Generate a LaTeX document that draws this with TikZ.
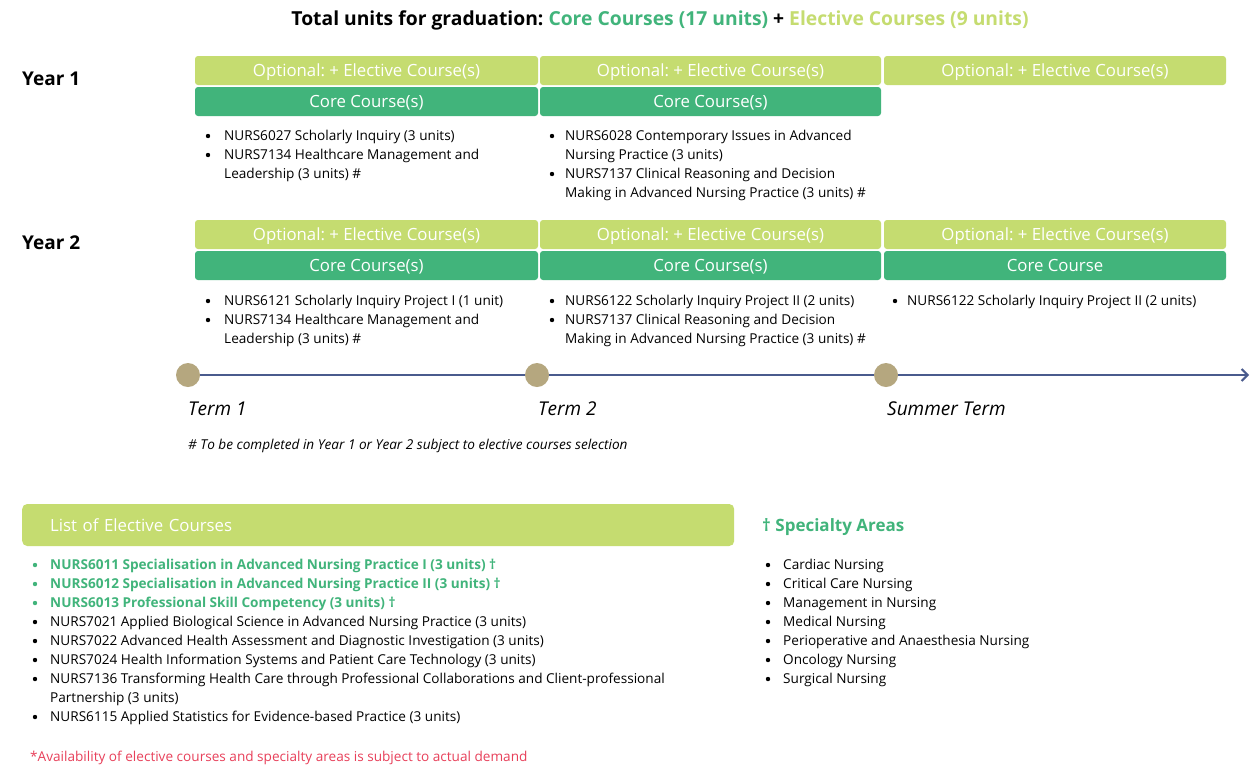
\documentclass[tikz,border=0pt]{standalone}
\usepackage{fontspec}
\setmainfont{Open Sans}
\usetikzlibrary{arrows.meta}
\definecolor{coregreen}{HTML}{41B47B}
\definecolor{elecgreen}{HTML}{C5DC70}
\definecolor{tline}{HTML}{4A5B8D}
\definecolor{tan}{HTML}{B5A77F}
\definecolor{noteRed}{HTML}{E8405A}
\newcommand\bitem[6][black]{\fill[#1] (#3,#5) circle (2.2pt);\node[item,text=#1] (#2) at (#4,#5) {#6};}
\frenchspacing
\begin{document}
\begin{tikzpicture}[x=1pt,y=-1pt,
  item/.style={anchor=west,inner sep=0pt,text height=11pt,text depth=2pt,font=\fontsize{13.6}{19}\selectfont},
  elbox/.style={fill=elecgreen,text=white,rounded corners=3pt,minimum height=29pt,inner sep=0pt,text height=14pt,text depth=2pt,font=\fontsize{16.8}{19}\selectfont},
  corebox/.style={fill=coregreen,text=white,rounded corners=3pt,minimum height=29pt,inner sep=0pt,text height=14pt,text depth=2pt,font=\fontsize{16.8}{19}\selectfont},
  yearlbl/.style={anchor=west,inner sep=0pt,font=\bfseries\fontsize{19}{22}\selectfont},
  termdot/.style={circle,fill=tan,minimum size=24pt,inner sep=0pt},
  termlbl/.style={anchor=west,inner sep=0pt,font=\itshape\fontsize{19}{22}\selectfont},
  tl/.style={draw=tline,line width=2.6pt}
]
\fill[white] (0,0) rectangle (1257,780);
\useasboundingbox (0,0) rectangle (1257,780);

\node[font=\bfseries\fontsize{19.3}{22}\selectfont,inner sep=0pt] (title) at (660,20)
 {Total units for graduation: \textcolor{coregreen}{Core Courses (17 units)} + \textcolor{elecgreen}{Elective Courses (9 units)}};

\node[yearlbl] (y1) at (22,79) {Year 1};
\node[yearlbl] (y2) at (22,243) {Year 2};

% Year 1 boxes
\node[elbox,minimum width=343pt] (e11) at (366.5,70.5) {Optional: + Elective Course(s)};
\node[elbox,minimum width=341pt] (e12) at (710.5,70.5) {Optional: + Elective Course(s)};
\node[elbox,minimum width=342pt] (e13) at (1055,70.5) {Optional: + Elective Course(s)};
\node[corebox,minimum width=343pt] (c11) at (366.5,101.5) {Core Course(s)};
\node[corebox,minimum width=341pt] (c12) at (710.5,101.5) {Core Course(s)};
% Year 2 boxes
\node[elbox,minimum width=343pt] (e21) at (366.5,234.5) {Optional: + Elective Course(s)};
\node[elbox,minimum width=341pt] (e22) at (710.5,234.5) {Optional: + Elective Course(s)};
\node[elbox,minimum width=342pt] (e23) at (1055,234.5) {Optional: + Elective Course(s)};
\node[corebox,minimum width=343pt] (c21) at (366.5,265.5) {Core Course(s)};
\node[corebox,minimum width=341pt] (c22) at (710.5,265.5) {Core Course(s)};
\node[corebox,minimum width=342pt] (c23) at (1055,265.5) {Core Course};

% Year 1 items
\bitem{a1}{208}{224}{136}{NURS6027 Scholarly Inquiry (3 units)}
\bitem{a2}{208}{224}{155}{NURS7134 Healthcare Management and}
\node[item] (a2b) at (224,174) {Leadership (3 units) \#};
\bitem{b1}{552}{565}{136}{NURS6028 Contemporary Issues in Advanced}
\node[item] (b1b) at (565,155) {Nursing Practice (3 units)};
\bitem{b2}{552}{565}{174}{NURS7137 Clinical Reasoning and Decision}
\node[item] (b2b) at (565,193) {Making in Advanced Nursing Practice (3 units) \#};

% Year 2 items
\bitem{c1}{208}{224}{301}{NURS6121 Scholarly Inquiry Project I (1 unit)}
\bitem{c2}{208}{224}{320}{NURS7134 Healthcare Management and}
\node[item] (c2b) at (224,339) {Leadership (3 units) \#};
\bitem{d1}{552}{565}{301}{NURS6122 Scholarly Inquiry Project II (2 units)}
\bitem{d2}{552}{565}{320}{NURS7137 Clinical Reasoning and Decision}
\node[item] (d2b) at (565,339) {Making in Advanced Nursing Practice (3 units) \#};
\bitem{f1}{895}{907}{301}{NURS6122 Scholarly Inquiry Project II (2 units)}

% Timeline
\node[termdot] (t1) at (188,375) {};
\node[termdot] (t2) at (537,375) {};
\node[termdot] (t3) at (886,375) {};
\coordinate (tend) at (1249,375);
\draw[tl] (t1) -- (t2);
\draw[tl] (t2) -- (t3);
\draw[tl,-{Straight Barb[length=6pt,width=12pt,line width=2pt]}] (t3) -- (tend);
\node[termlbl] (l1) at (188,409) {Term 1};
\node[termlbl] (l2) at (538,409) {Term 2};
\node[termlbl] (l3) at (887,409) {Summer Term};
\node[anchor=west,inner sep=0pt,font=\itshape\fontsize{13.6}{16}\selectfont] (foot) at (188,446) {\# To be completed in Year 1 or Year 2 subject to elective courses selection};

% Elective list
\node[fill=elecgreen,text=white,rounded corners=5pt,anchor=west,minimum height=42pt,text width=656pt,inner xsep=28pt,inner ysep=0pt,align=left,font=\fontsize{16.8}{19}\selectfont] (elhead) at (22,525) {List of Elective Courses};
\bitem[coregreen]{g1}{35}{50}{565}{\bfseries NURS6011 Specialisation in Advanced Nursing Practice I (3 units) †}
\bitem[coregreen]{g2}{35}{50}{584}{\bfseries NURS6012 Specialisation in Advanced Nursing Practice II (3 units) †}
\bitem[coregreen]{g3}{35}{50}{603}{\bfseries NURS6013 Professional Skill Competency (3 units) †}
\bitem{g4}{35}{50}{622}{NURS7021 Applied Biological Science in Advanced Nursing Practice (3 units)}
\bitem{g5}{35}{50}{641}{NURS7022 Advanced Health Assessment and Diagnostic Investigation (3 units)}
\bitem{g6}{35}{50}{660}{NURS7024 Health Information Systems and Patient Care Technology (3 units)}
\bitem{g7}{35}{50}{679}{NURS7136 Transforming Health Care through Professional Collaborations and Client-professional}
\node[item] (g7b) at (50,698) {Partnership (3 units)};
\bitem{g8}{35}{50}{717}{NURS6115 Applied Statistics for Evidence-based Practice (3 units)}
\node[item,text=noteRed] (note) at (30,757) {*Availability of elective courses and specialty areas is subject to actual demand};

% Specialty areas
\node[anchor=west,inner sep=0pt,text=coregreen,font=\bfseries\fontsize{17}{20}\selectfont] (sphead) at (762,527) {† Specialty Areas};
\bitem{s1}{768}{783}{565}{Cardiac Nursing}
\bitem{s2}{768}{783}{584}{Critical Care Nursing}
\bitem{s3}{768}{783}{603}{Management in Nursing}
\bitem{s4}{768}{783}{622}{Medical Nursing}
\bitem{s5}{768}{783}{641}{Perioperative and Anaesthesia Nursing}
\bitem{s6}{768}{783}{660}{Oncology Nursing}
\bitem{s7}{768}{783}{679}{Surgical Nursing}
\end{tikzpicture}
\end{document}
